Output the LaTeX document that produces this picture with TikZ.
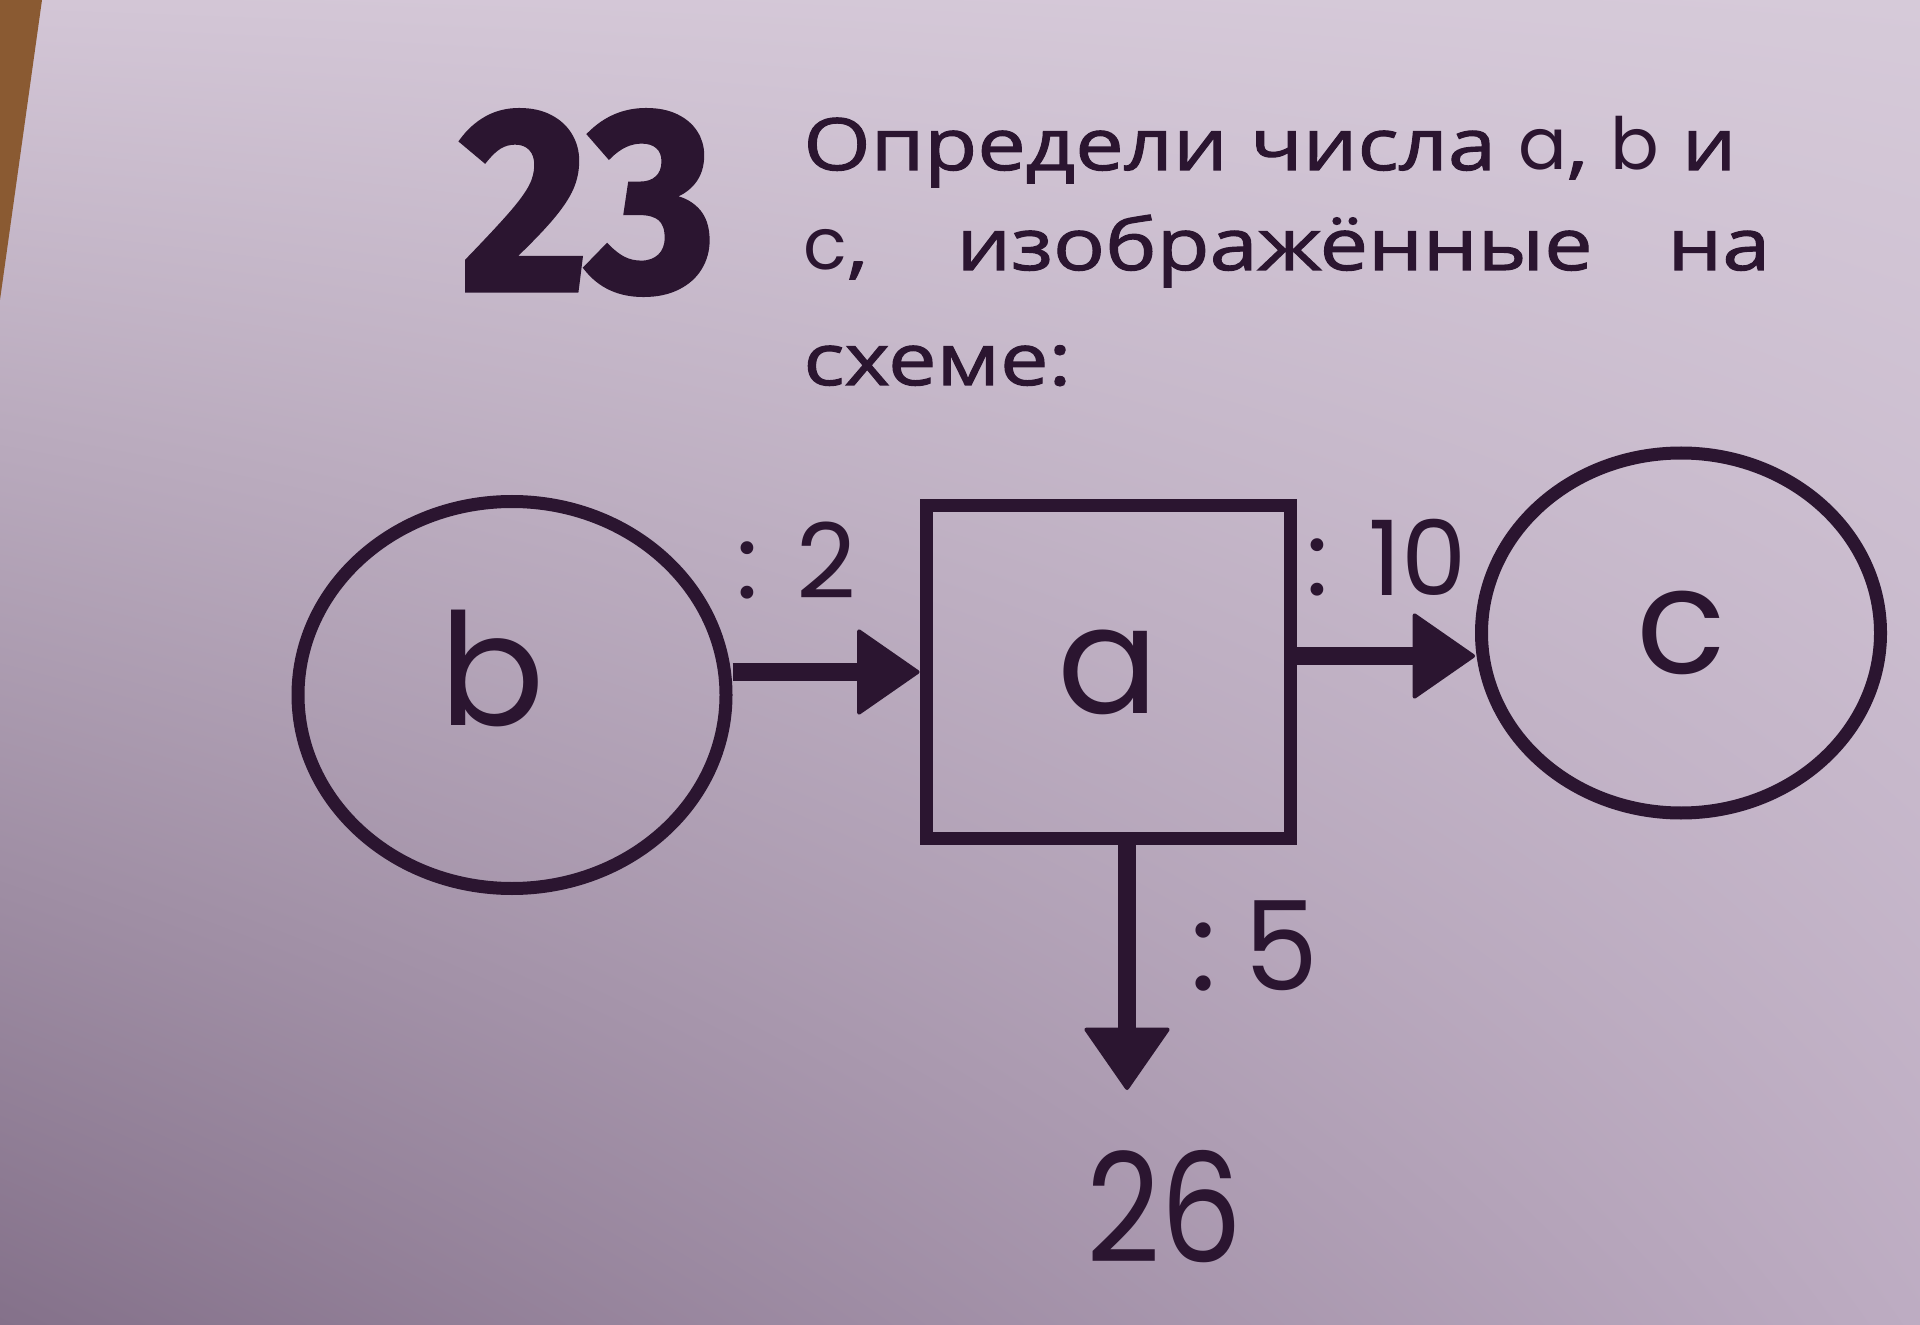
\documentclass[tikz,border=0pt]{standalone}
\usepackage{fontspec}
\usepackage{graphicx}
\setmainfont{Open Sans}[FakeStretch=1.2, FakeBold=1.6]
\newfontfamily\geo{Poppins}
\newfontfamily\numfont{Fira Sans}[FakeBold=2]
\usetikzlibrary{arrows.meta,shapes.geometric,calc,shadings}
\definecolor{ink}{HTML}{2B1530}
\definecolor{paperUL}{HTML}{D3C6D6}
\definecolor{paperUR}{HTML}{D6CAD9}
\definecolor{paperLL}{HTML}{84718A}
\definecolor{paperLR}{HTML}{BDACC2}
\definecolor{wood}{HTML}{8A5A32}
\tikzset{
  txt/.style={text=ink, inner sep=0pt, font=\fontsize{36}{40}\selectfont},
  lbl/.style={text=ink, inner sep=0pt, anchor=base west},
  bubble/.style={draw=ink, line width=6.5pt, ellipse, inner sep=0pt},
  box/.style={draw=ink, line width=6.5pt, rectangle, inner sep=0pt},
  arr/.style={draw=ink, line width=9pt, -{Triangle[length=32pt,width=44pt,line width=2pt,round]}},
}
\begin{document}
\begin{tikzpicture}[x=0.5pt,y=-0.5pt]
\useasboundingbox (0,0) rectangle (1920,1325);
\shade[upper left=paperUL, upper right=paperUR, lower left=paperLL, lower right=paperLR] (0,0) rectangle (1920,1325);
\fill[wood] (0,0) -- (42,0) -- (0,300) -- cycle;

% heading
\node[text=ink, inner sep=0pt, anchor=base west, font=\numfont\bfseries\fontsize{130}{130}\selectfont] (num) at (460,290) {\scalebox{0.95}[1]{23}};
\node[txt, anchor=base west] (line1) at (803,170) {Определи числа {\geo a}, {\geo b} и};
\node[txt, anchor=base west] (line2) at (803,270) {\makebox[483.5pt][s]{{\geo c}, изображённые на}};
\node[txt, anchor=base west] (line3) at (803,385) {схеме:};

% diagram
\node[bubble, minimum width=214pt, minimum height=193.5pt] (b) at (512,695) {};
\node[text=ink, inner sep=0pt, font=\geo\fontsize{78}{78}\selectfont] (bt) at (492,668) {b};
\node[box, minimum width=182pt, minimum height=166.5pt, font=\geo\fontsize{75}{75}\selectfont, text=ink] (a) at (1108,672) {a};
\node[bubble, minimum width=199.5pt, minimum height=180pt, font=\geo\fontsize{74}{74}\selectfont, text=ink] (c) at (1681,633) {c};
\coordinate (tip) at (1127,1090);

\draw[arr] (b.east |- a.west) -- (a.west);
\draw[arr] ([yshift=8pt]a.east) -- ([yshift=8pt]a.east -| c.west);
\draw[arr] (a.south -| tip) -- (tip);

\node[lbl, font=\geo\fontsize{52}{52}\selectfont] (k2) at (736,598) {:\hspace{19pt}2};
\node[lbl, font=\geo\fontsize{52}{52}\selectfont] (k10) at (1306,596) {:\hspace{20pt}10};
\node[lbl, font=\geo\fontsize{62}{62}\selectfont] (k5) at (1190,990) {:\hspace{14pt}\scalebox{0.95}[1]{5}};
\node[lbl, font=\geo\fontsize{76}{76}\selectfont] (n26) at (1086,1262) {\scalebox{0.85}[1]{26}};
\end{tikzpicture}
\end{document}
